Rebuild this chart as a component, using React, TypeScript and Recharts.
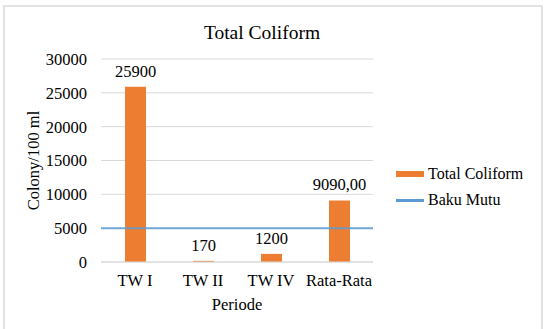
import React from "react";
import {
  BarChart,
  Bar,
  XAxis,
  YAxis,
  CartesianGrid,
  ReferenceLine,
  LabelList,
  Legend,
} from "recharts";

const periods = ["TW I", "TW II", "TW IV", "Rata-Rata"];
const totalColiform = [25900, 170, 1200, 9090];
const valueLabels = ["25900", "170", "1200", "9090,00"];
const bakuMutu = 5000;
const yTicks = [0, 5000, 10000, 15000, 20000, 25000, 30000];

const data = periods.map((p, i) => ({
  periode: p,
  total: totalColiform[i],
  label: valueLabels[i],
}));

const FONT = '"Liberation Serif", "Times New Roman", serif';
const ORANGE = "#ED7D31";
const BLUE = "#5B9BD5";

function LegendBox() {
  return (
    <div style={{ fontFamily: FONT, fontSize: 16, color: "#000", lineHeight: "26px" }}>
      <div style={{ display: "flex", alignItems: "center" }}>
        <span style={{ display: "inline-block", width: 28, height: 6, background: ORANGE, marginRight: 4 }} />
        Total Coliform
      </div>
      <div style={{ display: "flex", alignItems: "center" }}>
        <span style={{ display: "inline-block", width: 28, height: 3, background: BLUE, marginRight: 4 }} />
        Baku Mutu
      </div>
    </div>
  );
}

export default function App() {
  return (
    <div style={{ position: "absolute", left: 0, top: 0, width: 546, height: 329, background: "#fff", overflow: "hidden" }}>
      <div
        style={{
          position: "absolute",
          left: 3,
          top: 5,
          width: 536,
          height: 330,
          border: "2px solid #e3e3e3",
        }}
      />
      <div
        style={{
          position: "absolute",
          left: 0,
          top: 22,
          width: 524,
          textAlign: "center",
          fontFamily: FONT,
          fontSize: 19.5,
          color: "#000",
        }}
      >
        Total Coliform
      </div>
      <div style={{ position: "absolute", left: 0, top: 0 }}>
        <BarChart
          width={546}
          height={329}
          data={data}
          margin={{ top: 59, right: 173, bottom: 17, left: 20 }}
          style={{ fontFamily: FONT }}
        >
          <CartesianGrid vertical={false} stroke="#d9d9d9" />
          <XAxis
            dataKey="periode"
            height={50}
            axisLine={{ stroke: "#d9d9d9" }}
            tickLine={false}
            tickMargin={6}
            tick={{ fill: "#000", fontSize: 16.5, fontFamily: FONT }}
            label={{ value: "Periode", position: "insideBottom", offset: 2, fill: "#000", fontSize: 16.5, fontFamily: FONT }}
          />
          <YAxis
            width={81}
            domain={[0, 30000]}
            ticks={yTicks}
            axisLine={false}
            tickLine={false}
            tickMargin={8}
            tick={{ fill: "#000", fontSize: 16.5, fontFamily: FONT }}
            label={{
              value: "Colony/100 ml",
              angle: -90,
              position: "insideLeft",
              offset: 13,
              fill: "#000",
              fontSize: 16.5,
              fontFamily: FONT,
              style: { textAnchor: "middle" },
            }}
          />
          <Bar dataKey="total" name="Total Coliform" fill={ORANGE} barSize={21} isAnimationActive={false}>
            <LabelList dataKey="label" position="top" offset={10} fill="#000" fontSize={16.5} fontFamily={FONT} />
          </Bar>
          <ReferenceLine y={bakuMutu} stroke={BLUE} strokeWidth={2} strokeOpacity={0.85} />
          <Legend
            layout="vertical"
            align="center"
            verticalAlign="middle"
            content={() => <LegendBox />}
            wrapperStyle={{ left: 396, top: 161, width: 140 }}
          />
        </BarChart>
      </div>
    </div>
  );
}
